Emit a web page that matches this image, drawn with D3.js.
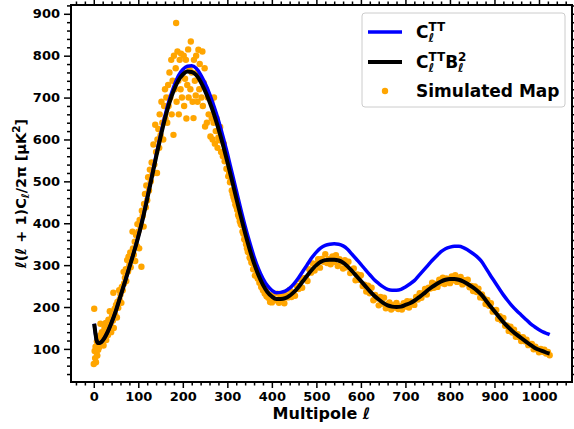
<!DOCTYPE html>
<html>
<head>
<meta charset="utf-8">
<script src="https://cdn.jsdelivr.net/npm/d3@7"></script>
<style>
  body { margin: 0; background: #fff; }
  text { font-family: "DejaVu Sans", sans-serif; font-weight: bold; fill: #000; }
  .tick-label { font-size: 13px; }
  .axis-title { font-size: 16px; }
  .y-title { font-size: 14.5px; }
  .leg { font-size: 17px; }
</style>
</head>
<body>
<div id="chart"></div>
<script>
// multipole grid for the two theory curves
const ellGrid = [1, 4, 6, 8, 10, 15, 20, 30, 40, 50, 60, 70, 80, 90, 100, 110, 120, 130, 140, 150,
  160, 170, 180, 190, 200, 210, 220, 230, 240, 250, 260, 270, 280, 290, 300, 310, 320, 330, 340, 350,
  360, 370, 380, 390, 400, 410, 420, 430, 440, 450, 460, 470, 480, 490, 500, 510, 520, 530, 540, 550,
  560, 570, 580, 590, 600, 610, 620, 630, 640, 650, 660, 670, 680, 690, 700, 710, 720, 730, 740, 750,
  760, 770, 780, 790, 800, 810, 820, 830, 840, 850, 860, 870, 880, 890, 900, 910, 920, 930, 940, 950,
  960, 970, 980, 990, 1000, 1010, 1020, 1024];

// C_l^TT (blue)
const clTT = [160, 135, 122, 116, 114, 115, 120, 138, 163, 192, 226, 260, 296, 331, 369, 412, 461, 511, 562, 611,
  657, 696, 727, 752, 767, 775, 776, 770, 755, 734, 709, 679, 646, 608, 567, 523, 479, 435, 393, 355,
  320, 291, 268, 251, 240, 234, 235, 238, 245, 256, 270, 286, 302, 318, 331, 341, 347, 350, 351, 350,
  346, 338, 326, 314, 302, 289, 277, 265, 256, 248, 242, 240, 240, 242, 248, 255, 263, 275, 287, 299,
  311, 322, 332, 339, 343, 345, 345, 342, 336, 329, 321, 310, 294, 277, 261, 245, 229, 215, 202, 191,
  181, 171, 161, 153, 146, 140, 136, 134];

// C_l^TT B_l^2 (black)
const clTTBeam = [160, 135, 122, 116, 114, 115, 120, 138, 163, 192, 226, 260, 295, 330, 368, 410, 458, 508, 558, 606,
  650, 688, 718, 741, 755, 762, 761, 754, 738, 716, 690, 660, 626, 588, 547, 504, 460, 417, 376, 338,
  304, 276, 253, 236, 225, 219, 219, 221, 227, 236, 248, 262, 276, 289, 300, 308, 312, 313, 313, 311,
  306, 297, 286, 274, 262, 250, 238, 227, 218, 210, 204, 201, 200, 201, 205, 209, 215, 223, 231, 240,
  248, 255, 261, 265, 267, 267, 265, 261, 255, 248, 240, 230, 217, 203, 190, 177, 164, 153, 143, 134,
  126, 118, 110, 103, 98, 94, 90, 89];

// simulated map spectrum, [ell, value]
const simMap = [
  [0, 64], [1, 196], [2, 95], [3, 78], [4, 105], [5, 68], [6, 92], [7, 118], [8, 84], [9, 110], [10, 98],
  [11, 125], [12, 104], [14, 132], [15, 160], [16, 112], [18, 140], [19, 118], [21, 135], [22, 108], [24, 150],
  [25, 128], [27, 162], [28, 121], [30, 145], [32, 133], [33, 170], [35, 152], [36, 190], [38, 160], [39, 140],
  [41, 178], [43, 168], [44, 234], [45, 150], [47, 196], [48, 182], [50, 205], [52, 175], [53, 212], [55, 198],
  [57, 240], [58, 218], [60, 230], [62, 210], [63, 248], [65, 240], [67, 284], [68, 256], [70, 270], [72, 290],
  [73, 262], [75, 312], [77, 285], [78, 320], [80, 300], [82, 330], [83, 295], [85, 318], [87, 380], [88, 340],
  [90, 325], [92, 356], [93, 310], [95, 372], [97, 345], [98, 398], [100, 380], [102, 340], [103, 408], [105, 392],
  [107, 296], [108, 430], [110, 418], [112, 392], [113, 446], [115, 470], [117, 438], [118, 490], [120, 455],
  [122, 510], [124, 478], [126, 528], [128, 500], [130, 545], [132, 518], [134, 588], [136, 540], [138, 635],
  [140, 570], [142, 520], [143, 600], [145, 625], [147, 580], [148, 660], [150, 610], [152, 690], [154, 640],
  [156, 600], [158, 680], [160, 720], [161, 650], [163, 700], [165, 640], [167, 730], [168, 680], [170, 760],
  [172, 700], [174, 790], [175, 660], [177, 740], [179, 611], [180, 800], [182, 720], [184, 770], [185, 878],
  [186, 690], [188, 810], [190, 740], [191, 660], [193, 790], [195, 720], [196, 805], [198, 700], [200, 760],
  [202, 800], [203, 680], [205, 745], [207, 790], [208, 650], [210, 730], [212, 815], [213, 700], [215, 770],
  [217, 720], [218, 834], [220, 760], [222, 690], [224, 651], [225, 790], [227, 740], [229, 705], [230, 800],
  [232, 760], [233, 690], [235, 814], [237, 720], [238, 780], [240, 745], [242, 700], [244, 810], [245, 680],
  [247, 735], [249, 770], [250, 631], [252, 720], [254, 640], [256, 700], [258, 660], [260, 700], [262, 607],
  [264, 690], [265, 650], [267, 600], [269, 640], [270, 700], [272, 590], [274, 620], [276, 650], [278, 580],
  [280, 605], [282, 598], [284, 630], [286, 570], [288, 600], [290, 560], [292, 590], [294, 548], [296, 555],
  [298, 530], [300, 530], [302, 512], [304, 520], [306, 498], [308, 500], [310, 478], [312, 470], [314, 462],
  [316, 455], [318, 445], [320, 440], [322, 432], [324, 420], [326, 415], [328, 405], [330, 398], [332, 395],
  [334, 380], [336, 375], [338, 362], [340, 360], [342, 350], [344, 340], [346, 332], [348, 330], [350, 318],
  [352, 315], [354, 306], [356, 305], [358, 290], [360, 292], [362, 275], [364, 276], [366, 285], [368, 268],
  [370, 272], [372, 258], [374, 260], [376, 248], [378, 255], [380, 240], [382, 248], [384, 232], [386, 240],
  [388, 226], [390, 232], [392, 222], [394, 228], [396, 212], [398, 224],
  [400, 211], [404, 232], [408, 216], [412, 232], [416, 210], [420, 222], [424, 231], [428, 209], [432, 228],
  [436, 223], [440, 241], [444, 224], [448, 235], [452, 227], [456, 251], [460, 243], [464, 266], [468, 246],
  [472, 269], [476, 269], [480, 262], [484, 290], [488, 282], [492, 304], [496, 287], [500, 303], [504, 314],
  [508, 294], [512, 315], [516, 308], [520, 326], [524, 305], [528, 314], [532, 302], [536, 321], [540, 308],
  [544, 324], [548, 298], [552, 314], [556, 307], [560, 292], [564, 312], [568, 295], [572, 308], [576, 281],
  [580, 289], [584, 292], [588, 264], [592, 278], [596, 265], [600, 276], [604, 250], [608, 253], [612, 237],
  [616, 251], [620, 233], [624, 246], [628, 216], [632, 229], [636, 221], [640, 204], [644, 224], [648, 208],
  [652, 222], [656, 197], [660, 207], [664, 211], [668, 194], [672, 205], [676, 199], [680, 210], [684, 195],
  [688, 202], [692, 194], [696, 209], [700, 201], [704, 214], [708, 199], [712, 213], [716, 211], [720, 205],
  [724, 224], [728, 218], [732, 233], [736, 222], [740, 233], [744, 243], [748, 230], [752, 246], [756, 244],
  [760, 258], [764, 246], [768, 255], [772, 248], [776, 265], [780, 257], [784, 270], [788, 255], [792, 268],
  [796, 265], [800, 257], [804, 273], [808, 264], [812, 276], [816, 260], [820, 267], [824, 272], [828, 254],
  [832, 264], [836, 257], [840, 265], [844, 247], [848, 250], [852, 238], [856, 249], [860, 236], [864, 244],
  [868, 223], [872, 230], [876, 221], [880, 207], [884, 217], [888, 203], [892, 209], [896, 189], [900, 192],
  [904, 193], [908, 172], [912, 178], [916, 168], [920, 174], [924, 155], [928, 156], [932, 143], [936, 153],
  [940, 139], [944, 146], [948, 129], [952, 135], [956, 128], [960, 119], [964, 128], [968, 118], [972, 122],
  [976, 109], [980, 112], [984, 112], [988, 99], [992, 105], [996, 99], [1000, 92], [1004, 100], [1008, 93],
  [1012, 98], [1016, 89], [1020, 93], [1024, 85]
];

const xTicks = [0, 100, 200, 300, 400, 500, 600, 700, 800, 900, 1000];
const yTicks = [100, 200, 300, 400, 500, 600, 700, 800, 900];

const W = 574, H = 429;
const margin = { top: 5, right: 2, bottom: 47, left: 71 };
const width = W - margin.left - margin.right;
const height = H - margin.top - margin.bottom;

const svg = d3.select("#chart").append("svg")
  .attr("width", W).attr("height", H);

const g = svg.append("g")
  .attr("transform", `translate(${margin.left},${margin.top})`);

const x = d3.scaleLinear().domain([-51.15, 1074.15]).range([0, width]);
const y = d3.scaleLinear().domain([21, 921]).range([height, 0]);

// clip for data marks
svg.append("defs").append("clipPath").attr("id", "plot-clip")
  .append("rect").attr("width", width).attr("height", height);

const plot = g.append("g").attr("clip-path", "url(#plot-clip)");

// scatter first (below lines)
plot.selectAll(".dot")
  .data(simMap)
  .enter()
  .append("circle")
  .attr("class", "dot")
  .attr("cx", (d) => x(d[0]))
  .attr("cy", (d) => y(d[1]))
  .attr("r", 3.2)
  .attr("fill", "#ffa500");

const line = (vals) => d3.line()
  .x((d, i) => x(ellGrid[i]))
  .y((d) => y(d))
  .curve(d3.curveMonotoneX)(vals);

plot.append("path")
  .attr("d", line(clTT))
  .attr("fill", "none")
  .attr("stroke", "#0000ff")
  .attr("stroke-width", 3.5)
  .attr("stroke-linejoin", "round");

plot.append("path")
  .attr("d", line(clTTBeam))
  .attr("fill", "none")
  .attr("stroke", "#000")
  .attr("stroke-width", 4)
  .attr("stroke-linejoin", "round");

// axes: ticks on all four sides, pointing out
const xMinor = d3.range(-40, 1061, 20).filter((v) => v % 100 !== 0);
const yMinor = d3.range(40, 921, 20).filter((v) => v % 100 !== 0);

function styleAxis(sel) {
  sel.select(".domain").remove();
  sel.selectAll(".tick line").attr("stroke", "#000").attr("stroke-width", 1.5);
  sel.selectAll(".tick text").attr("class", "tick-label")
    .attr("font-size", null).attr("font-family", null);
}

g.append("g").attr("transform", `translate(0,${height})`)
  .call(d3.axisBottom(x).tickValues(xTicks).tickSize(6).tickPadding(4).tickFormat(d3.format("d")))
  .call(styleAxis);
g.append("g").attr("transform", `translate(0,${height})`)
  .call(d3.axisBottom(x).tickValues(xMinor).tickSize(3.5).tickFormat(""))
  .call(styleAxis);
g.append("g")
  .call(d3.axisTop(x).tickValues(xTicks).tickSize(6).tickFormat(""))
  .call(styleAxis);
g.append("g")
  .call(d3.axisTop(x).tickValues(xMinor).tickSize(3.5).tickFormat(""))
  .call(styleAxis);

g.append("g")
  .call(d3.axisLeft(y).tickValues(yTicks).tickSize(7).tickPadding(4).tickFormat(d3.format("d")))
  .call(styleAxis);
g.append("g")
  .call(d3.axisLeft(y).tickValues(yMinor).tickSize(4).tickFormat(""))
  .call(styleAxis);
g.append("g").attr("transform", `translate(${width},0)`)
  .call(d3.axisRight(y).tickValues(yTicks).tickSize(6).tickFormat(""))
  .call(styleAxis);
g.append("g").attr("transform", `translate(${width},0)`)
  .call(d3.axisRight(y).tickValues(yMinor).tickSize(3.5).tickFormat(""))
  .call(styleAxis);

// frame
g.append("rect")
  .attr("width", width).attr("height", height)
  .attr("fill", "none").attr("stroke", "#000").attr("stroke-width", 2);

// axis titles
svg.append("text")
  .attr("class", "axis-title")
  .attr("x", margin.left + width / 2)
  .attr("y", 419)
  .attr("text-anchor", "middle")
  .text("Multipole ")
  .append("tspan").attr("font-style", "italic").text("ℓ");

const yt = svg.append("text")
  .attr("class", "y-title")
  .attr("transform", `translate(26,${margin.top + height / 2}) rotate(-90)`)
  .attr("text-anchor", "middle");
yt.append("tspan").attr("font-style", "italic").text("ℓ");
yt.append("tspan").text("(");
yt.append("tspan").attr("font-style", "italic").text("ℓ");
yt.append("tspan").text(" + 1)C");
yt.append("tspan").attr("font-size", "10.5px").attr("font-style", "italic").attr("dy", 3).text("ℓ");
yt.append("tspan").attr("dy", -3).text("/2π [μK");
yt.append("tspan").attr("font-size", "10.5px").attr("dy", -6).text("2");
yt.append("tspan").attr("dy", 6).text("]");

// legend
const leg = svg.append("g");
leg.append("rect")
  .attr("x", 362).attr("y", 13).attr("width", 203).attr("height", 94)
  .attr("rx", 3)
  .attr("fill", "#fff").attr("fill-opacity", 0.8)
  .attr("stroke", "#cccccc").attr("stroke-width", 1);

leg.append("line").attr("x1", 368).attr("x2", 402).attr("y1", 32).attr("y2", 32)
  .attr("stroke", "#0000ff").attr("stroke-width", 3.5);
leg.append("line").attr("x1", 368).attr("x2", 402).attr("y1", 62).attr("y2", 62)
  .attr("stroke", "#000").attr("stroke-width", 4);
leg.append("circle").attr("cx", 385).attr("cy", 91).attr("r", 3.2).attr("fill", "#ffa500");

// width of a string at a given size, for stacking sub/superscripts
function textWidth(str, size, italic) {
  const t = svg.append("text").attr("font-size", size + "px")
    .attr("font-style", italic ? "italic" : "normal").text(str);
  const w = t.node().getComputedTextLength();
  t.remove();
  return w;
}

// one text element: base glyph, superscript, subscript stacked under it
function mathText(px, py, parts) {
  const t = leg.append("text").attr("class", "leg").attr("x", px).attr("y", py);
  const small = 12;
  let pendingDx = 0, lastDy = 0;
  parts.forEach((p) => {
    const supW = textWidth(p.sup, small, false);
    const subW = textWidth(p.sub, small, true);
    t.append("tspan").attr("dx", pendingDx).attr("dy", -lastDy).text(p.base);
    t.append("tspan").attr("font-size", small + "px").attr("dy", -7).text(p.sup);
    t.append("tspan").attr("font-size", small + "px").attr("font-style", "italic")
      .attr("dx", -supW).attr("dy", 11).text(p.sub);
    pendingDx = Math.max(supW, subW) - subW;
    lastDy = 4;
  });
}

mathText(416, 38, [{ base: "C", sup: "TT", sub: "ℓ" }]);
mathText(416, 68, [{ base: "C", sup: "TT", sub: "ℓ" }, { base: "B", sup: "2", sub: "ℓ" }]);
leg.append("text").attr("class", "leg").attr("x", 416).attr("y", 97).text("Simulated Map");
</script>
</body>
</html>
